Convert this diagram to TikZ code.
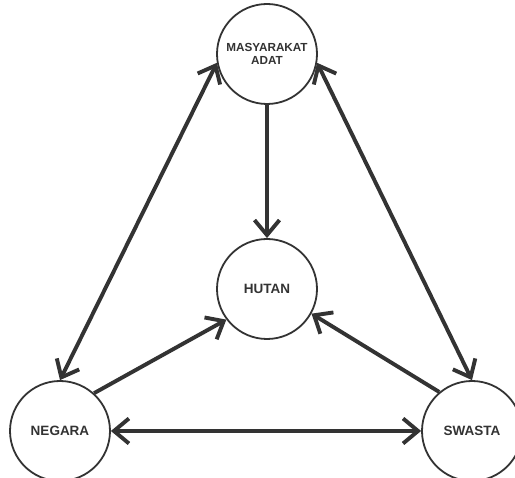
\documentclass[tikz,border=0pt]{standalone}
\usepackage{fontspec}
\setmainfont{Liberation Sans}
\usepackage{tikz}
\usetikzlibrary{
	arrows.meta
}
\definecolor{ForestGray}{RGB}{51,51,51}

\begin{document}
\begin{tikzpicture}[
	x=1pt,
	y=-1pt,
	>={Straight Barb[length=15pt,width=25pt]},
	actor/.style={
		circle,
		draw=ForestGray,
		line width=1.8pt,
		fill=white,
		text=ForestGray,
		font=\fontsize{13.5}{14.5}\selectfont\bfseries,
		align=center,
		inner sep=0pt,
		minimum size=100pt
	},
	link/.style={
		ForestGray,
		line width=3.9pt
	}
	]
				
				\useasboundingbox (0,0) rectangle (515,478);
				
				\node[
				actor,
				font=\fontsize{11.7}{12.8}\selectfont\bfseries
				]
				(MA)
				at (267,54)
				{MASYARAKAT\\ADAT};
				
				\node[
				actor
				]
				(HT)
				at (267,289)
				{HUTAN};
				
				\node[
				actor
				]
				(NG)
				at (60,431)
				{NEGARA};
				
				\node[
				actor
				]
				(SW)
				at (472,431)
				{SWASTA};
				
				\draw[
				->,
				link
				]
				(MA) -- (HT);
				
				\draw[
				<->,
				link
				]
				(NG.north) -- (MA.190);
				
				\draw[
				<->,
				link
				]
				(SW.north) -- (MA.-10);
				
				\draw[
				<->,
				link
				]
				(NG) -- (SW);
				
				\draw[
				->,
				link
				]
				(NG.48) -- (HT.217);
				
				\draw[
				->,
				link
				]
				(SW.130) -- (HT.-29);
				
			\end{tikzpicture}
\end{document}
